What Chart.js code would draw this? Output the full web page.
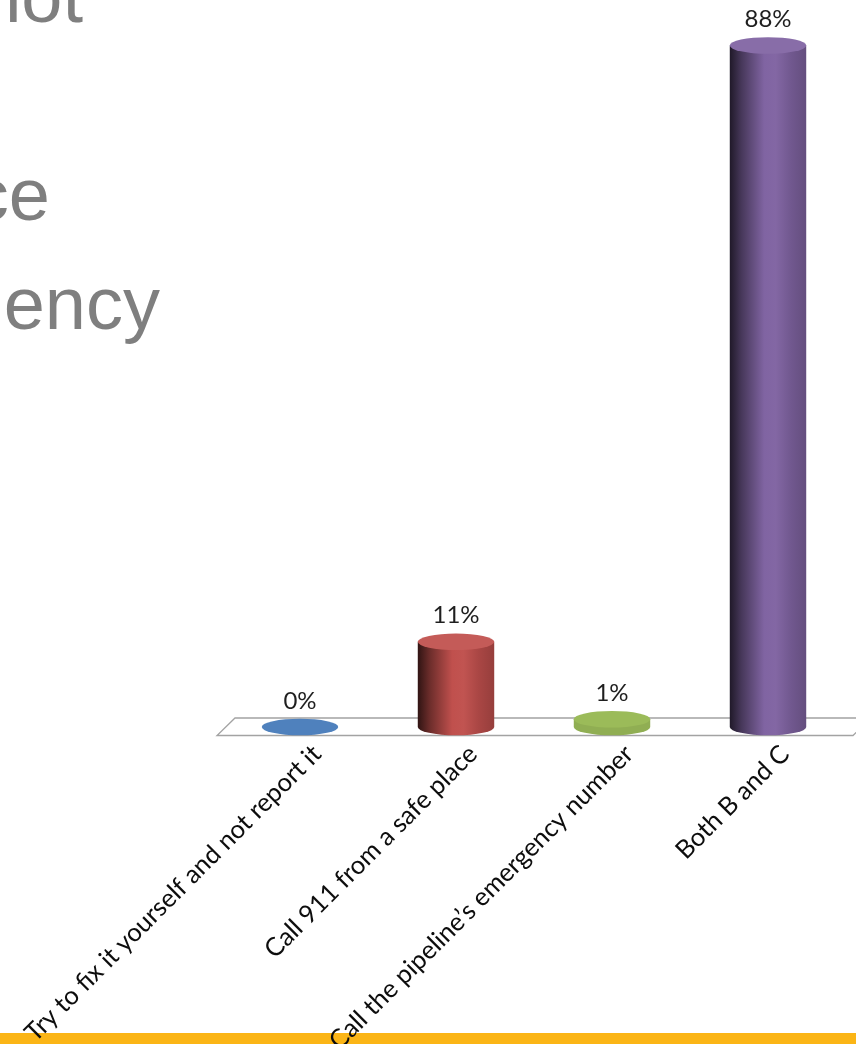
<!DOCTYPE html>
<html>
<head>
<meta charset="utf-8">
<title>Gas leak response</title>
<script src="https://cdn.jsdelivr.net/npm/chart.js@4.4.1/dist/chart.umd.min.js"></script>
<style>
  html, body { margin: 0; padding: 0; background: #fff; }
  body { position: relative; width: 856px; height: 1044px; overflow: hidden; }
  .slide-line {
    position: absolute;
    white-space: nowrap;
    font-family: "Liberation Sans", Arial, sans-serif;
    font-size: 74px;
    line-height: 74px;
    color: #7f7f7f;
  }
  .footer-bar { position: absolute; left: 0; top: 1033px; width: 856px; height: 11px; background: #fbb516; }
  #chart { position: absolute; left: 0; top: 0; z-index: 2; }
</style>
</head>
<body>
<div class="slide-line" style="right: 773px; top: -40px;">not</div>
<div class="slide-line" style="right: 806px; top: 158px;">ce</div>
<div class="slide-line" style="right: 696px; top: 267px;">ency</div>
<div class="footer-bar"></div>
<canvas id="chart" width="856" height="1100"></canvas>
<script>
const categories = [
  'Try to fix it yourself and not report it',
  'Call 911 from a safe place',
  'Call the pipeline\u2019s emergency number',
  'Both B and C'
];
const percentages = [0, 11, 1, 88];
const barColors = ['#4f81bd', '#c0504d', '#9bbb59', '#8064a2'];

// scale a hex colour toward black (f < 1) or white (f > 1)
function shade(hex, f) {
  const n = parseInt(hex.slice(1), 16);
  const ch = [(n >> 16) & 255, (n >> 8) & 255, n & 255].map(c => {
    const v = f <= 1 ? c * f : c + (255 - c) * (f - 1);
    return Math.round(Math.min(255, Math.max(0, v)));
  });
  return `rgb(${ch[0]},${ch[1]},${ch[2]})`;
}

const RY = 8.3; // vertical radius of the cylinder ends

const cylinders = {
  id: 'cylinders',
  beforeDatasetsDraw(chart) {
    // floor plane the cylinders stand on
    const { ctx, chartArea } = chart;
    const base = chart.scales.y.getPixelForValue(0);
    ctx.save();
    ctx.strokeStyle = '#a3a3a3';
    ctx.lineWidth = 1.3;
    ctx.beginPath();
    ctx.moveTo(chartArea.left - 5, base + 8.5);
    ctx.lineTo(chartArea.right + 7, base + 8.5);
    ctx.lineTo(chartArea.right + 25, base - 9);
    ctx.lineTo(chartArea.left + 13, base - 9);
    ctx.closePath();
    ctx.stroke();
    ctx.restore();
  },
  afterDatasetsDraw(chart) {
    const { ctx } = chart;
    const meta = chart.getDatasetMeta(0);
    meta.data.forEach((bar, i) => {
      const { x, y, base, width } = bar.getProps(['x', 'y', 'base', 'width'], true);
      const color = barColors[i];
      const rx = width / 2;
      const h = base - y;
      ctx.save();
      if (h > 0.5) {
        let side;
        if (h > 2 * RY) {
          side = ctx.createLinearGradient(x - rx, 0, x + rx, 0);
          side.addColorStop(0, shade(color, 0.25));
          side.addColorStop(0.15, shade(color, 0.55));
          side.addColorStop(0.45, color);
          side.addColorStop(0.6, shade(color, 1.02));
          side.addColorStop(0.8, shade(color, 0.88));
          side.addColorStop(1, shade(color, 0.78));
        } else {
          // very short cylinders barely show their side
          side = shade(color, 0.93);
        }
        ctx.fillStyle = side;
        ctx.beginPath();
        ctx.moveTo(x - rx, y);
        ctx.lineTo(x - rx, base);
        ctx.ellipse(x, base, rx, RY, 0, Math.PI, 0, true);
        ctx.lineTo(x + rx, y);
        ctx.closePath();
        ctx.fill();
        ctx.fillStyle = h > 2 * RY ? shade(color, 1.06) : color;
      } else {
        ctx.fillStyle = color;
      }
      ctx.beginPath();
      ctx.ellipse(x, y, rx, RY, 0, 0, Math.PI * 2);
      ctx.fill();

      // value label above the cylinder
      ctx.fillStyle = '#1f1f1f';
      ctx.font = '24px Lato';
      ctx.textAlign = 'center';
      ctx.textBaseline = 'alphabetic';
      ctx.fillText(percentages[i] + '%', x, y - 18.5);
      ctx.restore();
    });
  }
};

new Chart(document.getElementById('chart'), {
  type: 'bar',
  data: {
    labels: categories,
    datasets: [{
      data: percentages,
      backgroundColor: 'rgba(0,0,0,0)',
      borderWidth: 0,
      categoryPercentage: 0.49,
      barPercentage: 1
    }]
  },
  options: {
    responsive: false,
    animation: false,
    layout: { padding: { top: 30, left: 222, right: 10, bottom: 0 } },
    plugins: { legend: { display: false }, tooltip: { enabled: false } },
    scales: {
      x: {
        offset: true,
        grid: { display: false, drawTicks: false },
        border: { display: false },
        ticks: {
          autoSkip: false,
          minRotation: 45,
          maxRotation: 45,
          labelOffset: 17,
          padding: 12,
          color: '#0d0d0d',
          font: { family: 'Lato', size: 25.5 }
        },
        afterFit(scale) {
          scale.height = 373;
          scale.paddingLeft = 0;
          scale.paddingRight = 0;
        }
      },
      y: { display: false, min: 0, max: 90 }
    }
  },
  plugins: [cylinders]
});
</script>
</body>
</html>
